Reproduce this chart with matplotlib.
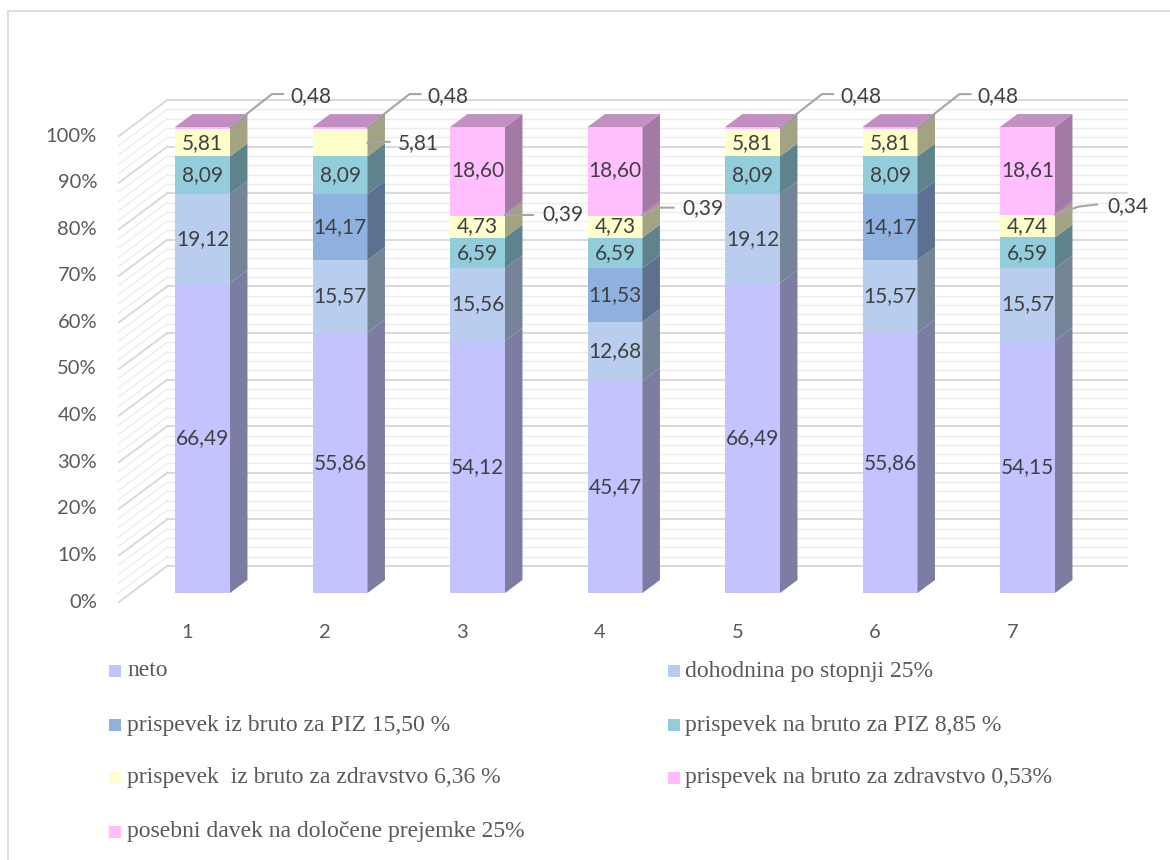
import numpy as np
import matplotlib
matplotlib.use('Agg')
import matplotlib.pyplot as plt
from matplotlib.patches import Polygon, Rectangle
from matplotlib.colors import to_rgb

# data: share of each component per case (%)
cases = ['1', '2', '3', '4', '5', '6', '7']
series_names = ['neto',
                'dohodnina po stopnji 25%',
                'prispevek iz bruto za PIZ 15,50 %',
                'prispevek na bruto za PIZ 8,85 %',
                'prispevek  iz bruto za zdravstvo 6,36 %',
                'prispevek na bruto za zdravstvo 0,53%',
                'posebni davek na določene prejemke 25%']
neto = [66.49, 55.86, 54.12, 45.47, 66.49, 55.86, 54.15]
dohodnina = [19.12, 15.57, 15.56, 12.68, 19.12, 15.57, 15.57]
piz_iz = [0, 14.17, 0, 11.53, 0, 14.17, 0]
piz_na = [8.09, 8.09, 6.59, 6.59, 8.09, 8.09, 6.59]
zdr_iz = [5.81, 5.81, 4.73, 4.73, 5.81, 5.81, 4.74]
zdr_na = [0.48, 0.48, 0.39, 0.39, 0.48, 0.48, 0.34]
posebni = [0, 0, 18.60, 18.60, 0, 0, 18.61]
series = [neto, dohodnina, piz_iz, piz_na, zdr_iz, zdr_na, posebni]

colors = ['#C3C3FF', '#B9CEEE', '#8EB1E0', '#93CDDC', '#FFFFCC', '#FFBBFF', '#FFBFFF']

# labels drawn outside with a leader: (case idx, series idx) -> leader path / text pos in px
outside = {
    (0, 5): [(42, 33), (53, 33), (60, 31)],
    (1, 5): [(42, 33), (53, 33), (60, 31)],
    (4, 5): [(42, 33), (53, 33), (60, 31)],
    (5, 5): [(42, 33), (53, 33), (60, 31)],
    (1, 4): [(12, 1), (22, 1), (30, 0)],
    (2, 5): [(28, 0), (28, 0), (37, 1)],
    (3, 5): [(18, 7), (31, 7), (40, 7)],
    (6, 5): [(24, 8), (42, 10), (52, 8)],
}

# pixel geometry of the oblique projection
PX_X0, PX_CAT = 202.5, 137.5
PX_Y0, PX_PCT = 593.0, 4.66
DEPTH_X = 1.343
BAR_W = 0.4
BAR_D = 13
WALL_T, FRONT_T = 27, -9
FLOOR_X = (0.48, 7.46)


def to_data(px, py):
    return 1 + (px - PX_X0) / PX_CAT, (PX_Y0 - py) / PX_PCT


def proj(x, v, t):
    return x + DEPTH_X * t / PX_CAT, v + t / PX_PCT


def darker(c, f):
    return tuple(np.array(to_rgb(c)) * f)


fig = plt.figure(figsize=(11.7, 8.6), dpi=100)
ax = fig.add_axes([0, 0, 1, 1])
ax.set_xlim(to_data(0, 0)[0], to_data(1170, 0)[0])
ax.set_ylim(to_data(0, 860)[1], to_data(0, 0)[1])
ax.axis('off')

# chart border
bx, by = to_data(8, 11)
ex, ey = to_data(1190, 880)
ax.add_patch(Rectangle((bx, ey), ex - bx, by - ey, fill=False, ec='#D9D9D9', lw=1.2, zorder=0))

# walls: back gridlines + slanted left wall lines
for v in np.arange(0, 101, 2):
    major = v % 10 == 0
    col = '#D9D9D9' if major else '#EDEDED'
    lw = 1.4 if major else 1.0
    p0 = proj(FLOOR_X[0], v, WALL_T)
    p1 = proj(FLOOR_X[1], v, WALL_T)
    ax.plot([p0[0], p1[0]], [p0[1], p1[1]], color=col, lw=lw, zorder=1)
    q0 = proj(FLOOR_X[0], v, FRONT_T)
    ax.plot([q0[0], p0[0]], [q0[1], p0[1]], color=col, lw=lw, zorder=1)
    if major:
        ax.text(to_data(97, 0)[0], q0[1], f'{v}%', ha='right', va='center',
                fontsize=14.5, color='#595959', family='Lato')

# category labels
for i, c in enumerate(cases):
    ax.text(i + 1 - 0.11, to_data(0, 632)[1], c, ha='center', va='center',
            fontsize=14.5, color='#595959', family='Lato')

# bars
x = np.arange(1, len(cases) + 1)
bottom = np.zeros(len(cases))
for s, (vals, col) in enumerate(zip(series, colors)):
    vals = np.array(vals)
    ax.bar(x, vals, width=BAR_W, bottom=bottom, color=col, zorder=3, lw=0)
    for i in range(len(cases)):
        if vals[i] <= 0:
            continue
        xr = x[i] + BAR_W / 2
        b, t = bottom[i], bottom[i] + vals[i]
        side = [proj(xr, b, 0), proj(xr, t, 0), proj(xr, t, BAR_D), proj(xr, b, BAR_D)]
        ax.add_patch(Polygon(side, closed=True, fc=darker(col, 0.64), ec='none', zorder=3))
        lab = f'{vals[i]:.2f}'.replace('.', ',')
        mid = b + vals[i] / 2
        if (i, s) in outside:
            path = outside[(i, s)]
            y0 = t if s == 5 and path[0][1] > 20 else mid
            xs = [xr] + [xr + dx / PX_CAT for dx, dy in path[:2]]
            ys = [y0] + [y0 + dy / PX_PCT for dx, dy in path[:2]]
            ax.plot(xs, ys, color='#A6A6A6', lw=1.5, zorder=4)
            tx, ty = path[2]
            ax.text(xr + tx / PX_CAT, y0 + ty / PX_PCT, lab, ha='left', va='center',
                    fontsize=15, color='#404040', family='Lato', zorder=5)
        else:
            ax.text(x[i], mid, lab, ha='center', va='center', fontsize=15,
                    color='#404040', family='Lato', zorder=5)
    bottom = bottom + vals

# top faces
for i in range(len(cases)):
    top_s = max(s for s in range(len(series)) if series[s][i] > 0)
    xl, xr = x[i] - BAR_W / 2, x[i] + BAR_W / 2
    tp = bottom[i]
    face = [proj(xl, tp, 0), proj(xr, tp, 0), proj(xr, tp, BAR_D), proj(xl, tp, BAR_D)]
    ax.add_patch(Polygon(face, closed=True, fc=darker(colors[top_s], 0.76), ec='none', zorder=3))

# legend (two columns, row-major like the original)
leg_rows = [671, 725, 778, 832]
leg_cols = [(115, 127), (674, 685)]
for k, (name, col) in enumerate(zip(series_names, colors)):
    r, c = divmod(k, 2)
    mx, tx = leg_cols[c]
    py = leg_rows[r]
    x0, y0 = to_data(mx - 6, py + 6)
    ax.add_patch(Rectangle((x0, y0), 12 / PX_CAT, 12 / PX_PCT, fc=col, ec='none'))
    lx, ly = to_data(tx, py)
    ax.text(lx, ly, name, ha='left', va='center', fontsize=17, color='#595959',
            family='Liberation Serif')

fig.savefig('out.png', dpi=100)
